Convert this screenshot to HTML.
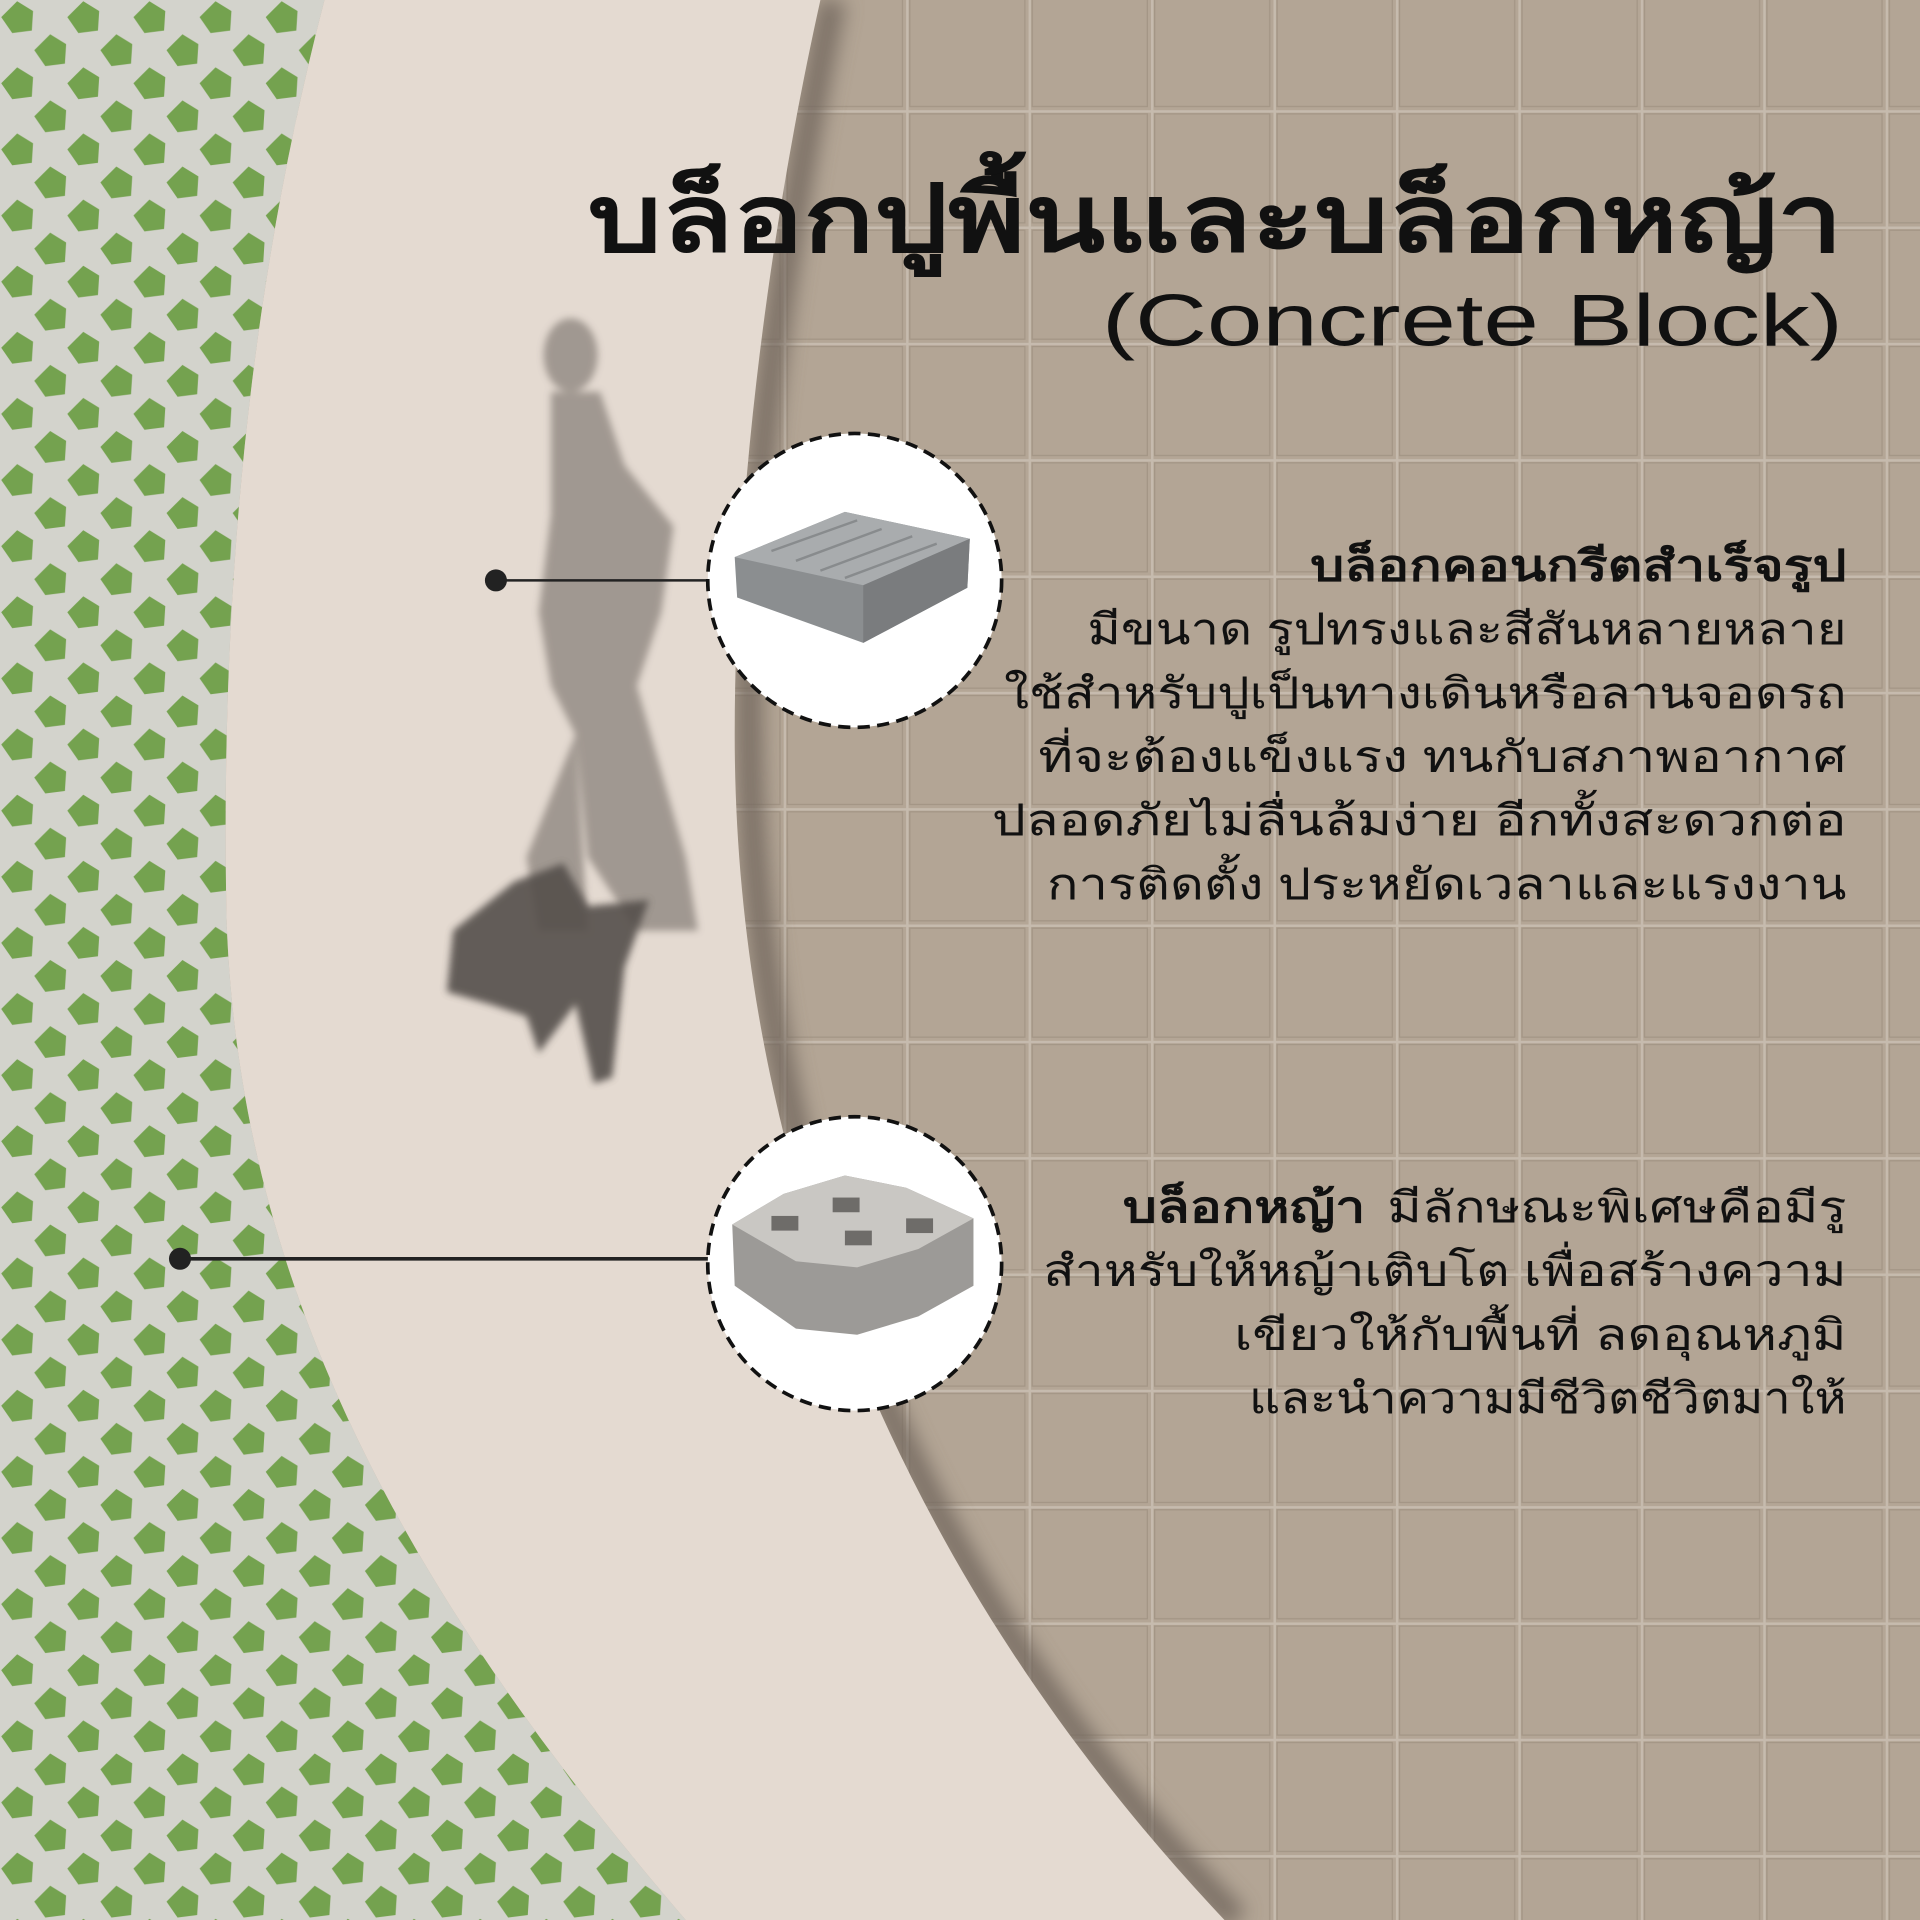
<!DOCTYPE html>
<html><head><meta charset="utf-8"><style>
html,body{margin:0;padding:0;width:1920px;height:1920px;overflow:hidden;background:#b9ab9b}
svg{display:block}
text{font-family:"Liberation Sans","Noto Sans CJK SC",sans-serif;fill:#111}
</style></head><body>
<svg width="1920" height="1920" viewBox="0 0 1568 1568" xmlns="http://www.w3.org/2000/svg">
<defs>
<pattern id="tile" x="640" y="-5" width="100" height="95" patternUnits="userSpaceOnUse">
<rect width="100" height="95" fill="#b4a696"/>
<rect x="3" y="3" width="94" height="89" fill="#b3a595" stroke="#a39585" stroke-width="1"/>
<rect x="0" y="0" width="100" height="2" fill="#c6bbae"/>
<rect x="0" y="0" width="2" height="95" fill="#c6bbae"/>
</pattern>
<pattern id="grass" x="0" y="0" width="54" height="54" patternUnits="userSpaceOnUse">
<rect width="54" height="54" fill="#d3d3cc"/>
<path d="M14 1 L27 9 L26 25 L10 27 L1 14 Z" fill="#74a24f"/>
<path d="M41 28 L54 36 L53 52 L37 54 L28 41 Z" fill="#74a24f"/>
</pattern>
<filter id="blur"><feGaussianBlur stdDeviation="8"/></filter>
<filter id="blur2"><feGaussianBlur stdDeviation="3"/></filter>
</defs>
<rect width="1568" height="1568" fill="url(#tile)"/>
<path d="M0 0 L265 0 C200 250 180 500 185 750 C195 1050 330 1300 560 1568 L0 1568 Z" fill="url(#grass)"/>
<path d="M680 0 C640 200 610 400 612 600 C615 900 700 1250 1010 1568" fill="none" stroke="#6f655c" stroke-width="22" filter="url(#blur)" opacity="0.8"/>
<path d="M265 0 C200 250 180 500 185 750 C195 1050 330 1300 560 1568 L1000 1568 C700 1250 600 900 600 600 C600 400 630 180 670 0 Z" fill="#e4dad1"/>
<g fill="#8a827c" opacity="0.75" filter="url(#blur2)">
<ellipse cx="466" cy="290" rx="22" ry="30"/>
<path d="M450 320 L490 320 L510 380 L550 430 L540 500 L520 560 L560 700 L570 760 L520 760 L480 700 L470 600 L450 560 L440 500 L450 420 Z"/>
<path d="M470 600 L430 700 L440 760 L480 760 Z"/>
</g>
<g fill="#55504c" opacity="0.9" filter="url(#blur2)">
<path d="M370 760 L420 720 L460 705 L480 740 L530 735 L510 790 L500 880 L485 885 L470 820 L440 860 L430 830 L400 820 L365 810 Z"/>
</g>
<text x="480" y="205" font-size="76" font-weight="bold" textLength="1025" lengthAdjust="spacingAndGlyphs">บล็อกปูพื้นและบล็อกหญ้า</text>
<text x="900" y="282" font-size="60" textLength="605" lengthAdjust="spacingAndGlyphs">(Concrete Block)</text>
<line x1="405" y1="474" x2="580" y2="474" stroke="#222" stroke-width="2"/>
<circle cx="405" cy="474" r="9" fill="#222"/>
<line x1="147" y1="1028" x2="580" y2="1028" stroke="#222" stroke-width="3"/>
<circle cx="147" cy="1028" r="9" fill="#222"/>
<circle cx="698" cy="474" r="120" fill="#fff" stroke="#111" stroke-width="3" stroke-dasharray="10 6"/>
<path d="M600 455 L690 418 L792 440 L790 480 L705 525 L602 488 Z" fill="#8b8e90"/>
<path d="M600 455 L690 418 L792 440 L705 478 Z" fill="#a9acae"/>
<path d="M705 478 L792 440 L790 480 L705 525 Z" fill="#7a7c7e"/>
<g stroke="#888b8d" stroke-width="2" fill="none"><path d="M630 450 L700 425 M650 458 L720 432 M670 466 L745 438 M690 472 L765 444"/></g>
<circle cx="698" cy="1032" r="120" fill="#fff" stroke="#111" stroke-width="3" stroke-dasharray="10 6"/>
<path d="M598 1000 L640 975 L690 960 L740 970 L795 995 L795 1050 L750 1075 L700 1090 L650 1085 L600 1050 Z" fill="#9c9a97"/>
<path d="M598 1000 L640 975 L690 960 L740 970 L795 995 L750 1020 L700 1035 L650 1030 Z" fill="#c9c7c3"/>
<g fill="#6e6c69"><rect x="630" y="993" width="22" height="12"/><rect x="680" y="978" width="22" height="12"/><rect x="690" y="1005" width="22" height="12"/><rect x="740" y="995" width="22" height="12"/></g>
<g font-size="35" lengthAdjust="spacingAndGlyphs">
<text x="1070" y="474" font-weight="bold" textLength="438" lengthAdjust="spacingAndGlyphs">บล็อกคอนกรีตสำเร็จรูป</text>
<text x="888" y="526" textLength="620" lengthAdjust="spacingAndGlyphs">มีขนาด รูปทรงและสีสันหลายหลาย</text>
<text x="820" y="578" textLength="688" lengthAdjust="spacingAndGlyphs">ใช้สำหรับปูเป็นทางเดินหรือลานจอดรถ</text>
<text x="848" y="630" textLength="660" lengthAdjust="spacingAndGlyphs">ที่จะต้องแข็งแรง ทนกับสภาพอากาศ</text>
<text x="810" y="682" textLength="698" lengthAdjust="spacingAndGlyphs">ปลอดภัยไม่ลื่นล้มง่าย อีกทั้งสะดวกต่อ</text>
<text x="855" y="734" textLength="653" lengthAdjust="spacingAndGlyphs">การติดตั้ง ประหยัดเวลาและแรงงาน</text>
<text x="917" y="998" font-weight="bold" textLength="198" lengthAdjust="spacingAndGlyphs">บล็อกหญ้า</text>
<text x="1133" y="998" textLength="375" lengthAdjust="spacingAndGlyphs">มีลักษณะพิเศษคือมีรู</text>
<text x="852" y="1050" textLength="656" lengthAdjust="spacingAndGlyphs">สำหรับให้หญ้าเติบโต เพื่อสร้างความ</text>
<text x="1008" y="1102" textLength="500" lengthAdjust="spacingAndGlyphs">เขียวให้กับพื้นที่ ลดอุณหภูมิ</text>
<text x="1020" y="1154" textLength="488" lengthAdjust="spacingAndGlyphs">และนำความมีชีวิตชีวิตมาให้</text>
</g>
</svg>
</body></html>
